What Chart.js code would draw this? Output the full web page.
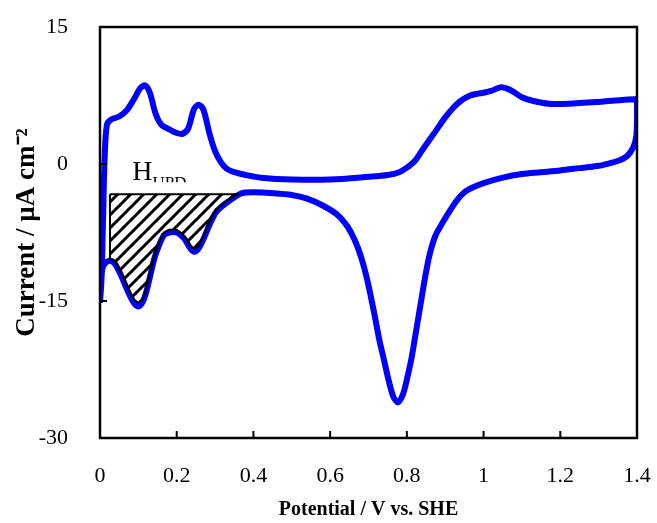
<!DOCTYPE html>
<html>
<head>
<meta charset="utf-8">
<script src="https://cdn.jsdelivr.net/npm/chart.js@4.4.0/dist/chart.umd.min.js"></script>
<style>
html, body { margin: 0; padding: 0; background: #fff; }
</style>
</head>
<body>
<canvas id="cv" width="657" height="523"></canvas>
<script>
// forward (anodic) sweep
const upX = [0.0, 0.004, 0.008, 0.012, 0.018, 0.03, 0.05, 0.07, 0.09, 0.105, 0.118, 0.13, 0.145, 0.16, 0.18, 0.2, 0.215, 0.23, 0.245, 0.258, 0.27, 0.285, 0.3, 0.315, 0.33, 0.35, 0.38, 0.42, 0.5, 0.6, 0.7, 0.75, 0.78, 0.8, 0.82, 0.84, 0.86, 0.88, 0.9, 0.92, 0.94, 0.965, 0.985, 1.0, 1.02, 1.045, 1.07, 1.1, 1.13, 1.17, 1.22, 1.3, 1.36, 1.395];
const upY = [-15.2, -12.5, -6, 0.5, 4.3, 4.9, 5.2, 5.9, 7.2, 8.3, 8.6, 7.8, 5.5, 4.3, 3.8, 3.4, 3.3, 3.9, 6.0, 6.5, 5.9, 3.4, 1.4, 0.2, -0.5, -0.9, -1.2, -1.5, -1.7, -1.7, -1.4, -1.2, -0.9, -0.4, 0.3, 1.5, 2.7, 3.9, 5.1, 6.1, 6.9, 7.5, 7.7, 7.8, 8.0, 8.4, 8.1, 7.3, 6.9, 6.6, 6.6, 6.8, 7.0, 7.1];

// reverse (cathodic) sweep
const downX = [1.4, 1.4, 1.398, 1.39, 1.375, 1.355, 1.33, 1.3, 1.25, 1.2, 1.15, 1.1, 1.05, 1.0, 0.97, 0.95, 0.93, 0.914, 0.895, 0.875, 0.86, 0.848, 0.836, 0.824, 0.812, 0.8, 0.79, 0.777, 0.765, 0.752, 0.74, 0.728, 0.717, 0.706, 0.694, 0.68, 0.665, 0.646, 0.62, 0.583, 0.54, 0.5, 0.45, 0.4, 0.37, 0.345, 0.322, 0.302, 0.285, 0.27, 0.256, 0.245, 0.235, 0.22, 0.2, 0.18, 0.167, 0.155, 0.142, 0.13, 0.12, 0.11, 0.1, 0.09, 0.08, 0.068, 0.055, 0.04, 0.028, 0.015, 0.006, 0.0];
const downY = [7.1, 5.0, 3.0, 1.8, 0.9, 0.4, 0.1, -0.2, -0.45, -0.7, -0.9, -1.1, -1.5, -2.1, -2.6, -3.1, -4.0, -5.0, -6.3, -7.8, -9.8, -12.3, -15.3, -18.3, -21.3, -23.6, -25.2, -26.1, -25.5, -23.6, -21.4, -19.2, -16.8, -14.5, -12.2, -10.1, -8.4, -6.9, -5.6, -4.6, -3.8, -3.4, -3.2, -3.1, -3.2, -3.8, -4.5, -5.3, -6.7, -8.2, -9.3, -9.6, -9.2, -8.2, -7.5, -7.5, -7.8, -8.8, -10.3, -12.4, -14.1, -15.2, -15.6, -15.3, -14.6, -13.5, -12.2, -11.0, -10.6, -10.8, -11.5, -15.2];

// hatched H_UPD area
const hupdX = [0.026, 0.358, 0.342, 0.322, 0.302, 0.285, 0.27, 0.256, 0.245, 0.235, 0.22, 0.2, 0.18, 0.167, 0.155, 0.142, 0.13, 0.12, 0.11, 0.1, 0.09, 0.08, 0.068, 0.055, 0.04, 0.026, 0.026];
const hupdY = [-3.3, -3.3, -3.7, -4.3, -5.0, -6.4, -7.9, -9.0, -9.3, -8.9, -7.9, -7.2, -7.2, -7.5, -8.5, -10.0, -12.1, -13.8, -14.9, -15.2, -14.9, -14.2, -13.1, -11.9, -10.7, -10.4, -3.3];

const xTicks = [0, 0.2, 0.4, 0.6, 0.8, 1.0, 1.2, 1.4];
const yTicks = [-30, -15, 0, 15];

function toPts(xs, ys) {
  return xs.map((v, i) => ({x: v, y: ys[i]}));
}

function hatch() {
  var s = 13;
  var c = document.createElement('canvas');
  c.width = s; c.height = s;
  var g = c.getContext('2d');
  g.strokeStyle = '#000';
  g.lineWidth = 3;
  g.beginPath();
  g.moveTo(-2, s + 2); g.lineTo(s + 2, -2);
  g.moveTo(-2, 2); g.lineTo(2, -2);
  g.moveTo(s - 2, s + 2); g.lineTo(s + 2, s - 2);
  g.stroke();
  return document.getElementById('cv').getContext('2d').createPattern(c, 'repeat');
}

// box, inside ticks and the H_UPD label
const frame = {
  id: 'frame',
  afterDatasetsDraw(chart) {
    var ctx = chart.ctx, a = chart.chartArea;
    var x = chart.scales.x, y = chart.scales.y;
    ctx.save();
    ctx.strokeStyle = '#000';
    ctx.lineWidth = 2;
    xTicks.forEach(function(v) {
      var px = x.getPixelForValue(v);
      ctx.beginPath(); ctx.moveTo(px, a.bottom); ctx.lineTo(px, a.bottom - 7); ctx.stroke();
    });
    yTicks.forEach(function(v) {
      var py = y.getPixelForValue(v);
      ctx.beginPath(); ctx.moveTo(a.left, py); ctx.lineTo(a.left + 7, py); ctx.stroke();
    });
    ctx.lineWidth = 2.5;
    ctx.strokeRect(a.left, a.top, a.right - a.left, a.bottom - a.top);

    var lx = x.getPixelForValue(0.084), ly = y.getPixelForValue(-1.7);
    ctx.beginPath();
    ctx.rect(a.left, a.top, a.right - a.left, y.getPixelForValue(-2.0) - a.top);
    ctx.clip();
    ctx.fillStyle = '#000';
    ctx.textBaseline = 'alphabetic';
    ctx.font = '28px "Liberation Serif"';
    ctx.fillText('H', lx, ly);
    var w = ctx.measureText('H').width;
    ctx.font = '17px "Liberation Serif"';
    ctx.fillText('UPD', lx + w, ly + 8);
    ctx.restore();
  }
};

new Chart(document.getElementById('cv'), {
  type: 'scatter',
  data: {
    datasets: [
      {
        data: toPts(hupdX, hupdY),
        showLine: true,
        tension: 0,
        borderColor: '#000',
        borderWidth: 2,
        backgroundColor: hatch(),
        fill: 'shape',
        pointRadius: 0,
        order: 0
      },
      {
        data: toPts(upX, upY).concat(toPts(downX, downY)),
        showLine: true,
        tension: 0.3,
        borderColor: '#0000ff',
        borderWidth: 6,
        pointRadius: 0,
        fill: false,
        order: 1
      }
    ]
  },
  options: {
    responsive: false,
    animation: false,
    layout: { padding: { top: 27, right: 20, left: 0, bottom: 0 } },
    plugins: { legend: { display: false }, tooltip: { enabled: false } },
    scales: {
      x: {
        type: 'linear',
        min: 0, max: 1.4,
        grid: { display: false },
        border: { display: false },
        afterBuildTicks: function(s) { s.ticks = xTicks.map(v => ({value: v})); },
        afterFit: function(s) {
          s.height = 85;
          s.paddingLeft = 0; s.paddingRight = 0;
        },
        ticks: {
          color: '#000',
          padding: 17,
          maxRotation: 0,
          font: { family: '"Liberation Serif"', size: 22 },
          callback: function(v) { return String(Number(v.toFixed(1))); }
        },
        title: {
          display: true,
          text: 'Potential / V vs. SHE',
          color: '#000',
          padding: { top: 0, bottom: 1 },
          font: { family: '"Liberation Serif"', size: 20, weight: 'bold' }
        }
      },
      y: {
        type: 'linear',
        min: -30, max: 15,
        grid: { display: false },
        border: { display: false },
        afterBuildTicks: function(s) { s.ticks = yTicks.map(v => ({value: v})); },
        afterFit: function(s) {
          s.width = 100;
          s.paddingTop = 0; s.paddingBottom = 0;
        },
        ticks: {
          color: '#000',
          padding: 24,
          font: { family: '"Liberation Serif"', size: 22 }
        },
        title: {
          display: true,
          text: 'Current / µA cm⁻²',
          color: '#000',
          padding: { top: 11, bottom: 0 },
          font: { family: '"Liberation Serif"', size: 27, weight: 'bold' }
        }
      }
    }
  },
  plugins: [frame]
});
</script>
</body>
</html>
